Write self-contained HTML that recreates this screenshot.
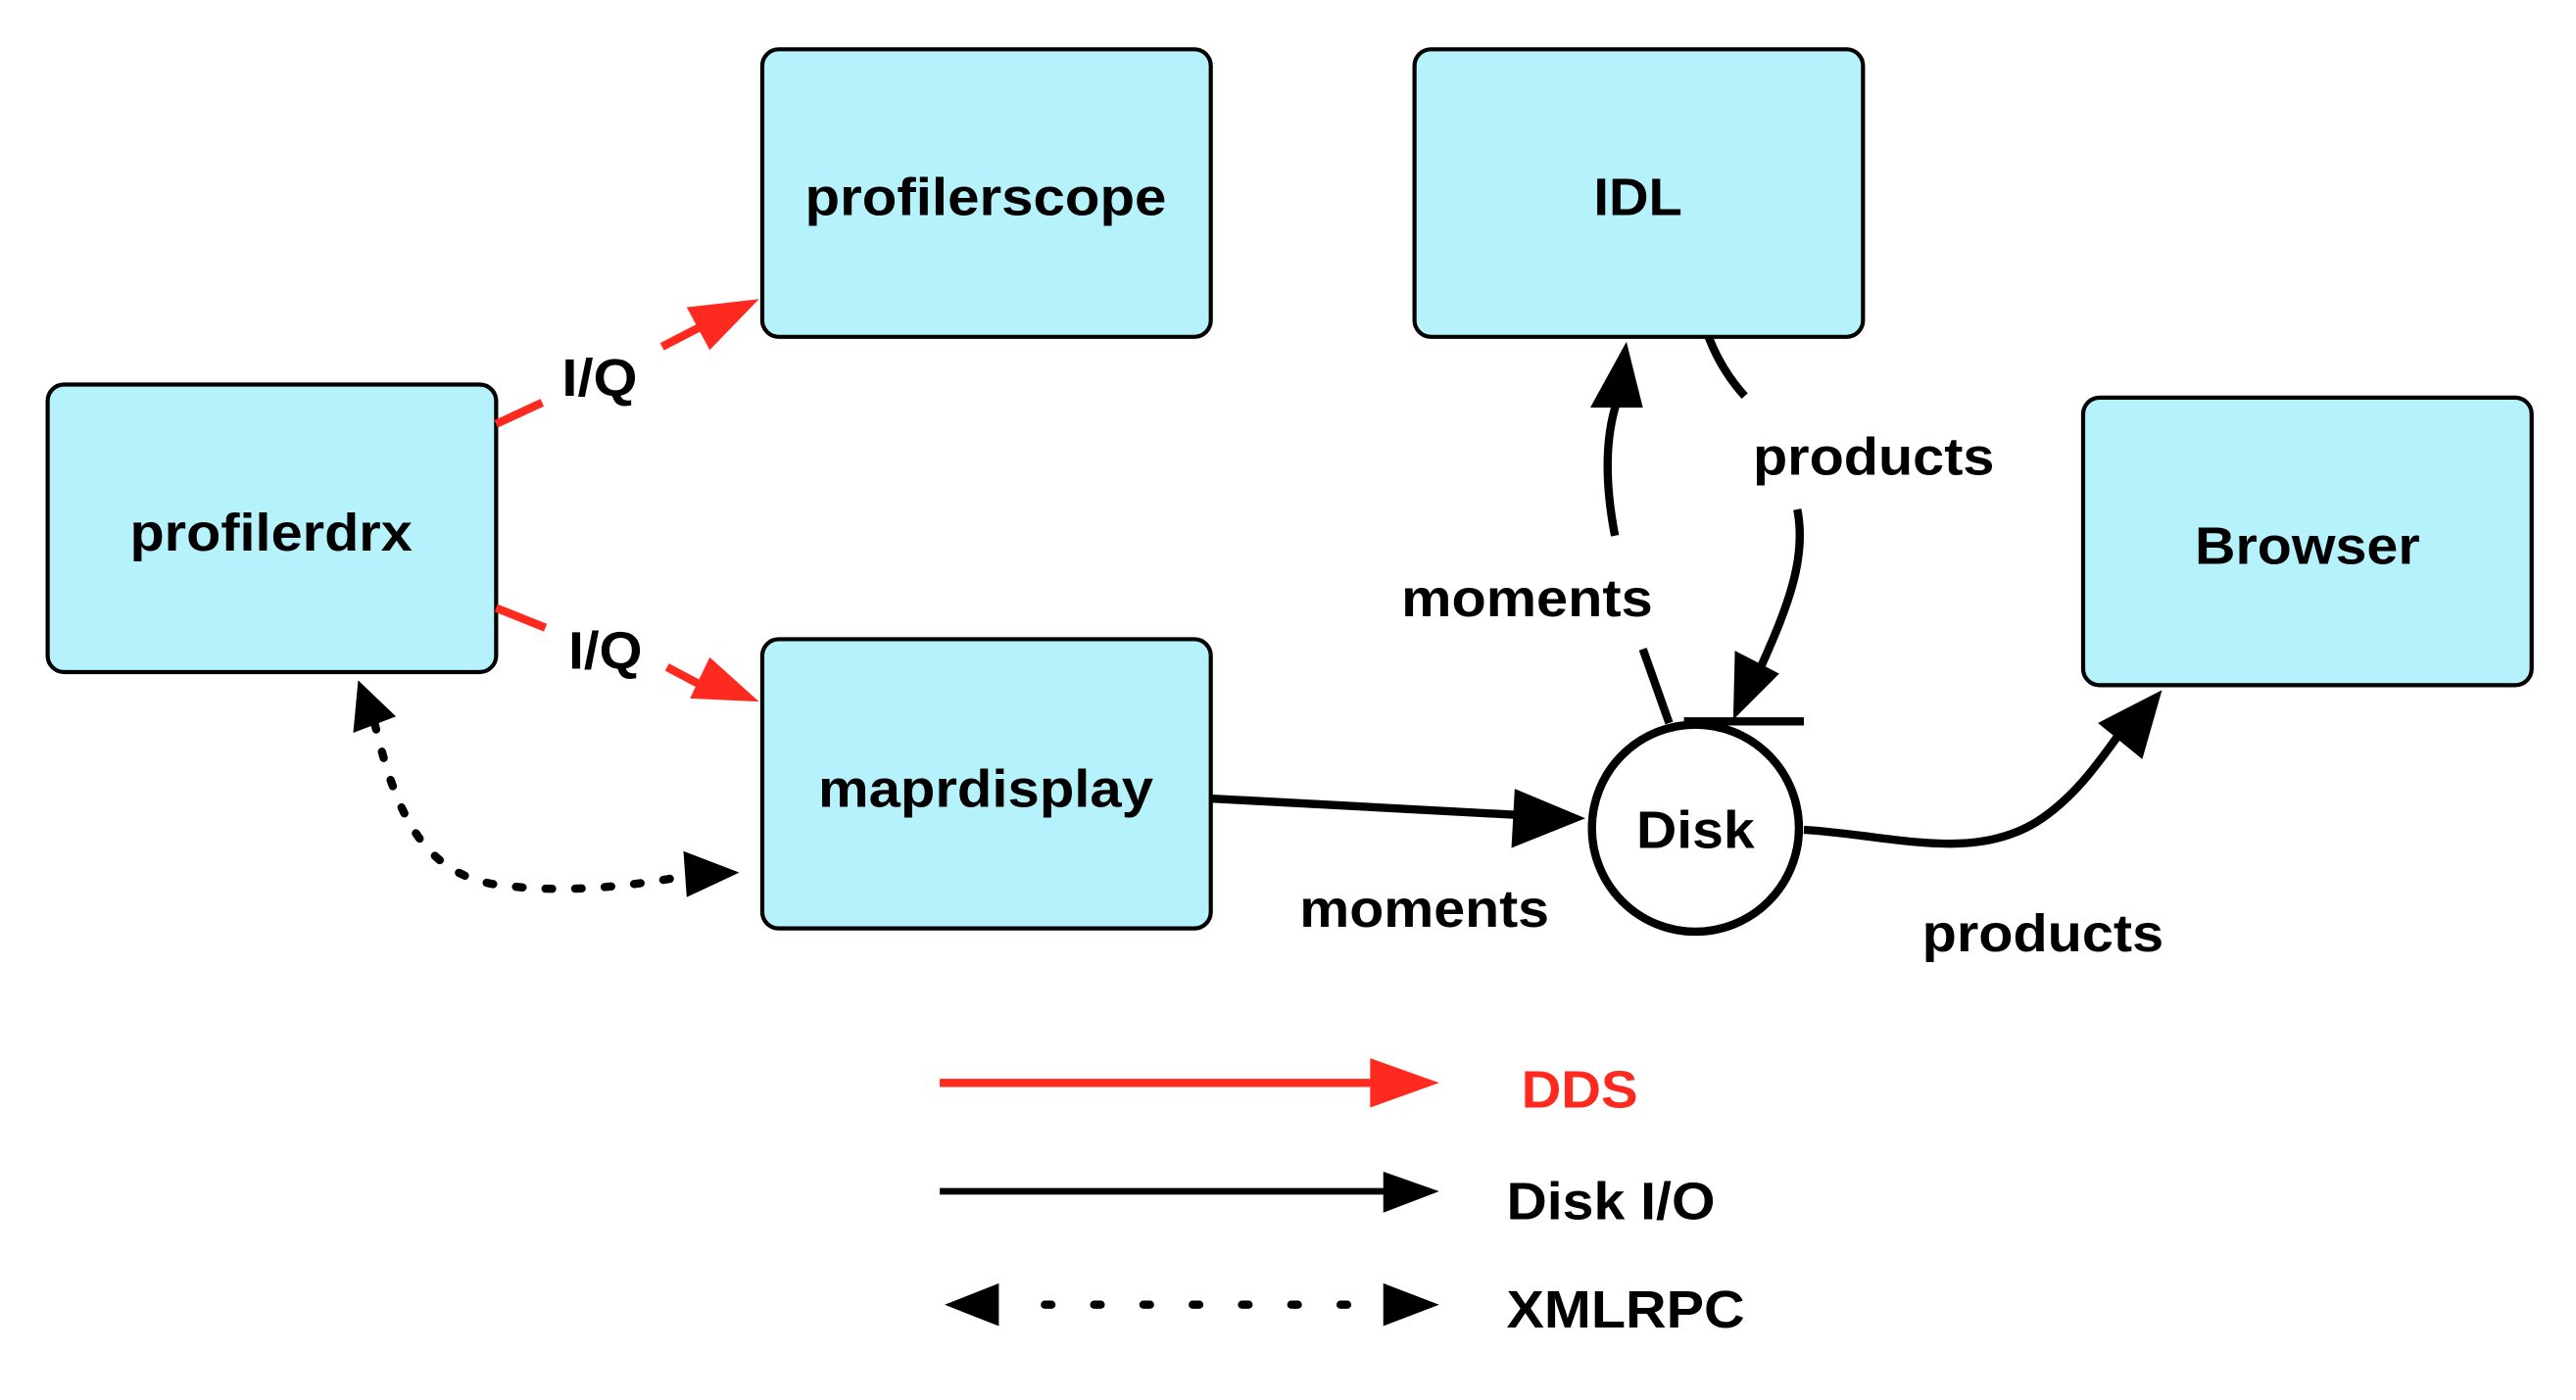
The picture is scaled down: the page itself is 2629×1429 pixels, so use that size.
<!DOCTYPE html>
<html><head><style>html,body{margin:0;padding:0;background:#fff}svg{display:block}</style></head>
<body>
<svg width="2629" height="1429" viewBox="0 0 1568 852" preserveAspectRatio="none" xmlns="http://www.w3.org/2000/svg" font-family="Liberation Sans, Arial, sans-serif" font-weight="bold" font-size="32">
<g fill="#b5f2fb" stroke="#000" stroke-width="2.5">
<rect x="464" y="30" width="273" height="175" rx="10"/>
<rect x="861" y="30" width="273" height="175" rx="10"/>
<rect x="29" y="234" width="273" height="175" rx="10"/>
<rect x="464" y="389" width="273" height="176" rx="10"/>
<rect x="1268" y="242" width="273" height="175" rx="10"/>
</g>
<circle cx="1032" cy="504" r="63" fill="#fff" stroke="#000" stroke-width="5"/>
<g lengthAdjust="spacingAndGlyphs">
<text x="490" y="131" textLength="220" lengthAdjust="spacingAndGlyphs">profilerscope</text>
<text x="970" y="131" textLength="54" lengthAdjust="spacingAndGlyphs">IDL</text>
<text x="79" y="335" textLength="172" lengthAdjust="spacingAndGlyphs">profilerdrx</text>
<text x="498" y="491" textLength="204" lengthAdjust="spacingAndGlyphs">maprdisplay</text>
<text x="1336" y="343" textLength="137" lengthAdjust="spacingAndGlyphs">Browser</text>
<text x="996" y="516" textLength="72" lengthAdjust="spacingAndGlyphs">Disk</text>
<text x="342" y="241" textLength="46" lengthAdjust="spacingAndGlyphs">I/Q</text>
<text x="346" y="407" textLength="45" lengthAdjust="spacingAndGlyphs">I/Q</text>
<text x="1067" y="289" textLength="147" lengthAdjust="spacingAndGlyphs">products</text>
<text x="853" y="375" textLength="153" lengthAdjust="spacingAndGlyphs">moments</text>
<text x="791" y="564" textLength="152" lengthAdjust="spacingAndGlyphs">moments</text>
<text x="1170" y="579" textLength="147" lengthAdjust="spacingAndGlyphs">products</text>
<text x="926" y="674" fill="#ff2a1f" textLength="71" lengthAdjust="spacingAndGlyphs">DDS</text>
<text x="917" y="742" textLength="127" lengthAdjust="spacingAndGlyphs">Disk I/O</text>
<text x="917" y="808" textLength="145" lengthAdjust="spacingAndGlyphs">XMLRPC</text>
</g>
<g fill="none" stroke="#ff2a1f" stroke-width="5">
<path d="M302 258 L330 245"/><path d="M403 211 L432 196"/>
<path d="M302 370 L332 382"/><path d="M406 406 L425 416"/>
<path d="M572 659 L840 659"/>
</g>
<g fill="#ff2a1f">
<polygon points="462,182 418,187 432,213"/>
<polygon points="462,427 432,400 420,425"/>
<polygon points="876,659 834,644 834,674"/>
</g>
<g fill="none" stroke="#000" stroke-width="5">
<path d="M738 486 L925 496"/>
<path d="M983 326 C978 300 976 270 984 245"/>
<path d="M1040 205 C1045 218 1052 230 1062 241"/>
<path d="M1094 310 C1100 340 1088 370 1070 410"/>
<path d="M1000 395 L1016 440"/>
<path d="M1025 439 L1098 439"/>
<path d="M1098 505 C1150 508 1200 525 1240 500 C1265 484 1280 460 1295 440"/>
</g>
<g fill="#000">
<polygon points="965,498 922,480 920,516"/>
<polygon points="990,208 968,248 1000,248"/>
<polygon points="1055,438 1056,396 1083,410"/>
<polygon points="1316,420 1277,440 1304,462"/>
<polygon points="876,725 842,713 842,738"/>
<polygon points="450,531 416,518 418,546"/>
<polygon points="218,414 215,446 241,436"/>
<polygon points="575,794 608,781 608,807"/>
<polygon points="876,794 842,781 842,807"/>
</g>
<path d="M572 725 L845 725" stroke="#000" stroke-width="4" fill="none"/>
<path d="M228 440 C240 490 255 530 300 538 C340 544 380 540 418 533" stroke="#000" stroke-width="5" fill="none" stroke-dasharray="4 14" stroke-linecap="round"/>
<path d="M636 794 L842 794" stroke="#000" stroke-width="5" fill="none" stroke-dasharray="4 26" stroke-linecap="round"/>
</svg>
</body></html>
